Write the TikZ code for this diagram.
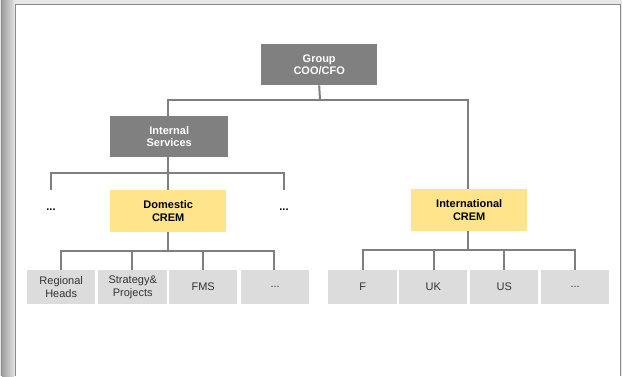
\documentclass[tikz,border=0pt]{standalone}
\usepackage{fontspec}
\setmainfont{Liberation Sans}
\begin{document}
\begin{tikzpicture}[x=1pt,y=-1pt,
  font=\fontsize{11}{12.5}\selectfont,
  headbox/.style={fill=boxgray,text=white,font=\fontsize{11}{12.5}\selectfont\bfseries,align=center,inner sep=0pt,anchor=north west},
  crembox/.style={fill=cremyellow,text=black,font=\fontsize{11}{12.5}\selectfont\bfseries,align=center,inner sep=0pt,anchor=north west},
  unitbox/.style={fill=unitgray,text=textgray,align=center,inner sep=0pt,anchor=north west,minimum width=68pt,minimum height=34pt},
  link/.style={draw=linegray,line width=2pt}]
\definecolor{boxgray}{HTML}{808080}
\definecolor{cremyellow}{HTML}{FFE48C}
\definecolor{unitgray}{HTML}{DCDCDC}
\definecolor{textgray}{HTML}{333333}
\definecolor{linegray}{HTML}{7F7F7F}
\definecolor{framegray}{HTML}{E6E6E6}
\definecolor{edgegray}{HTML}{8A8A8A}
\useasboundingbox (0,0) rectangle (622,376);
% window frame
\fill[framegray] (0,0) rectangle (622,376);
\shade[left color=gray!75,right color=gray!25] (2,0) rectangle (14,376);
\draw[edgegray,line width=1pt] (1.5,0) -- (1.5,376);
\fill[white] (16,4) rectangle (620,376);
\draw[edgegray,line width=1.5pt] (15.5,376) -- (15.5,4.5) -- (620.5,4.5) -- (620.5,376);
% organisation boxes
\node[headbox,minimum width=116pt,minimum height=41pt] (group) at (261,44) {Group\\COO/CFO};
\node[headbox,minimum width=118pt,minimum height=41pt] (internal) at (110,116) {Internal\\Services};
\node[crembox,minimum width=116pt,minimum height=42pt] (dom) at (110,190) {Domestic\\CREM};
\node[crembox,minimum width=116pt,minimum height=42pt] (intl) at (411,189) {International\\CREM};
\node[font=\fontsize{11}{12.5}\selectfont\bfseries] (dotsl) at (51,210) {...};
\node[font=\fontsize{11}{12.5}\selectfont\bfseries] (dotsr) at (284,210) {...};
\node[unitbox] (reg) at (27,270) {Regional\\Heads};
\node[unitbox,minimum width=69pt] (strat) at (98,270) {Strategy\&\\Projects};
\node[unitbox] (fms) at (169,270) {FMS};
\node[unitbox] (dmore) at (241,270) {...};
\node[unitbox,minimum width=69pt] (uf) at (328,270) {F};
\node[unitbox] (uk) at (399,270) {UK};
\node[unitbox] (us) at (470,270) {US};
\node[unitbox] (imore) at (541,270) {...};
% connectors
\coordinate (top) at (320,100);
\draw[link] (group.south) -- (top);
\draw[link] (internal.north -| 168,0) |- (top) -| (intl.north -| 468,0);
\coordinate (mid) at (168,173);
\draw[link] (internal.south -| 168,0) -- (dom.north -| 168,0);
\draw[link] (51,190) |- (mid) -| (284,190);
\coordinate (dbus) at (168,251);
\draw[link] (dom.south -| 168,0) -- (dbus);
\draw[link] (reg.north -| 61,0) |- (dbus) -| (dmore.north -| 274,0);
\draw[link] (strat.north -| 132,0) -- (132,251);
\draw[link] (fms.north -| 203,0) -- (203,251);
\coordinate (ibus) at (468,250);
\draw[link] (intl.south -| 468,0) -- (ibus);
\draw[link] (uf.north -| 363,0) |- (ibus) -| (imore.north -| 575,0);
\draw[link] (uk.north -| 434,0) -- (434,250);
\draw[link] (us.north -| 504,0) -- (504,250);
\end{tikzpicture}
\end{document}
